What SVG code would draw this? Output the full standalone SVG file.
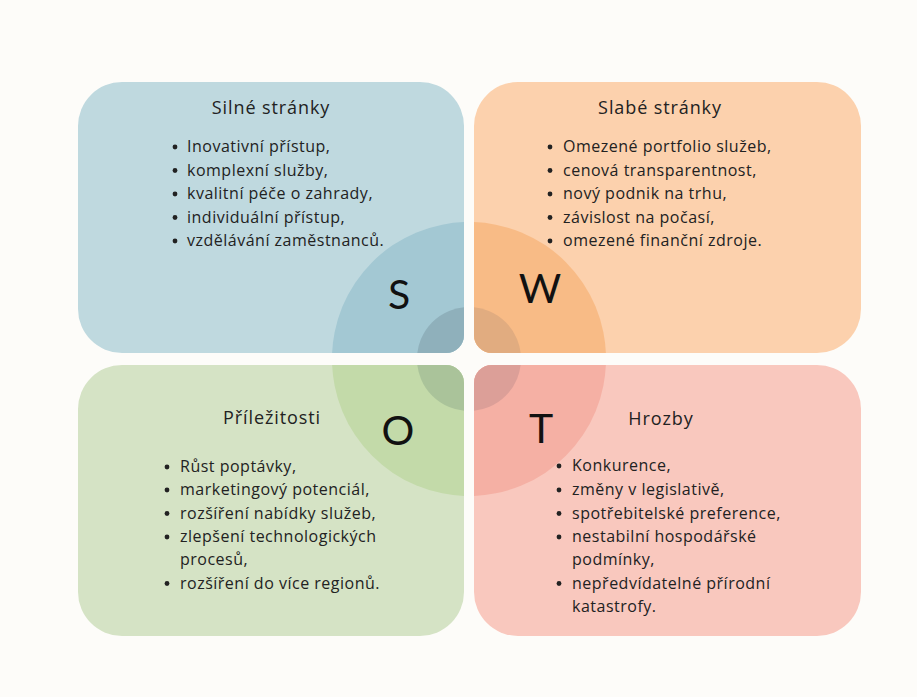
<svg xmlns="http://www.w3.org/2000/svg" xmlns:xlink="http://www.w3.org/1999/xlink" width="917" height="697" viewBox="0 0 917 697">
  <style>
    .title { font-family: "Open Sans", "Lato", "DejaVu Sans", sans-serif; font-size: 18px; letter-spacing: 0.9px; fill: #222; text-anchor: middle; }
    .item { font-family: "Open Sans", "Lato", "DejaVu Sans", sans-serif; font-size: 16px; letter-spacing: 0.5px; fill: #222; }
    .letter { font-family: "Lato", "Liberation Sans", sans-serif; font-size: 41px; fill: #111; text-anchor: middle; }
    .bullet { fill: #222; }
  </style>
  <defs>
    <!-- quadrant outlines: large outer corners, small corner toward the centre -->
    <path id="shape-s" d="M122,82 H420 A44,44 0 0 1 464,126 V335 A18,18 0 0 1 446,353 H122 A44,44 0 0 1 78,309 V126 A44,44 0 0 1 122,82 Z"/>
    <path id="shape-w" d="M518,82 H817 A44,44 0 0 1 861,126 V309 A44,44 0 0 1 817,353 H492 A18,18 0 0 1 474,335 V126 A44,44 0 0 1 518,82 Z"/>
    <path id="shape-o" d="M122,365 H446 A18,18 0 0 1 464,383 V592 A44,44 0 0 1 420,636 H122 A44,44 0 0 1 78,592 V409 A44,44 0 0 1 122,365 Z"/>
    <path id="shape-t" d="M492,365 H817 A44,44 0 0 1 861,409 V592 A44,44 0 0 1 817,636 H518 A44,44 0 0 1 474,592 V383 A18,18 0 0 1 492,365 Z"/>
    <clipPath id="clip-s"><use xlink:href="#shape-s"/></clipPath>
    <clipPath id="clip-w"><use xlink:href="#shape-w"/></clipPath>
    <clipPath id="clip-o"><use xlink:href="#shape-o"/></clipPath>
    <clipPath id="clip-t"><use xlink:href="#shape-t"/></clipPath>
    <circle id="ring-outer" cx="469" cy="359" r="137"/>
    <circle id="ring-inner" cx="469" cy="359" r="52"/>
  </defs>

  <rect width="917" height="697" fill="#fdfcf9"/>

  <!-- Strengths -->
  <g id="strengths">
    <use xlink:href="#shape-s" fill="#bfd9df"/>
    <g clip-path="url(#clip-s)">
      <use xlink:href="#ring-outer" fill="#a3c8d3"/>
      <use xlink:href="#ring-inner" fill="#8fb0bb"/>
    </g>
    <text class="letter" x="399" y="309">S</text>
    <text class="title" x="271" y="114">Silné stránky</text>
    <g class="bullet">
      <circle cx="175" cy="147" r="2.4"/>
      <circle cx="175" cy="170.5" r="2.4"/>
      <circle cx="175" cy="194" r="2.4"/>
      <circle cx="175" cy="217.5" r="2.4"/>
      <circle cx="175" cy="241" r="2.4"/>
    </g>
    <g class="item">
      <text x="187" y="152">Inovativní přístup,</text>
      <text x="187" y="175.5">komplexní služby,</text>
      <text x="187" y="199">kvalitní péče o zahrady,</text>
      <text x="187" y="222.5">individuální přístup,</text>
      <text x="187" y="246">vzdělávání zaměstnanců.</text>
    </g>
  </g>

  <!-- Weaknesses -->
  <g id="weaknesses">
    <use xlink:href="#shape-w" fill="#fcd1ad"/>
    <g clip-path="url(#clip-w)">
      <use xlink:href="#ring-outer" fill="#f8bb86"/>
      <use xlink:href="#ring-inner" fill="#e1ac80"/>
    </g>
    <text class="letter" x="540" y="303">W</text>
    <text class="title" x="660" y="114">Slabé stránky</text>
    <g class="bullet">
      <circle cx="550" cy="147" r="2.4"/>
      <circle cx="550" cy="170.5" r="2.4"/>
      <circle cx="550" cy="194" r="2.4"/>
      <circle cx="550" cy="217.5" r="2.4"/>
      <circle cx="550" cy="241" r="2.4"/>
    </g>
    <g class="item">
      <text x="563" y="152">Omezené portfolio služeb,</text>
      <text x="563" y="175.5">cenová transparentnost,</text>
      <text x="563" y="199">nový podnik na trhu,</text>
      <text x="563" y="222.5">závislost na počasí,</text>
      <text x="563" y="246">omezené finanční zdroje.</text>
    </g>
  </g>

  <!-- Opportunities -->
  <g id="opportunities">
    <use xlink:href="#shape-o" fill="#d5e3c5"/>
    <g clip-path="url(#clip-o)">
      <use xlink:href="#ring-outer" fill="#c3daa9"/>
      <use xlink:href="#ring-inner" fill="#aac39a"/>
    </g>
    <text class="letter" x="398" y="445">O</text>
    <text class="title" x="272" y="424">Příležitosti</text>
    <g class="bullet">
      <circle cx="167" cy="467" r="2.4"/>
      <circle cx="167" cy="490" r="2.4"/>
      <circle cx="167" cy="513.5" r="2.4"/>
      <circle cx="167" cy="537" r="2.4"/>
      <circle cx="167" cy="583.5" r="2.4"/>
    </g>
    <g class="item">
      <text x="180" y="472">Růst poptávky,</text>
      <text x="180" y="495">marketingový potenciál,</text>
      <text x="180" y="518.5">rozšíření nabídky služeb,</text>
      <text x="180" y="542">zlepšení technologických</text>
      <text x="180" y="565">procesů,</text>
      <text x="180" y="588.5">rozšíření do více regionů.</text>
    </g>
  </g>

  <!-- Threats -->
  <g id="threats">
    <use xlink:href="#shape-t" fill="#f9c8be"/>
    <g clip-path="url(#clip-t)">
      <use xlink:href="#ring-outer" fill="#f5b0a4"/>
      <use xlink:href="#ring-inner" fill="#dc9f98"/>
    </g>
    <text class="letter" x="541" y="443">T</text>
    <text class="title" x="661" y="425">Hrozby</text>
    <g class="bullet">
      <circle cx="559" cy="466" r="2.4"/>
      <circle cx="559" cy="490" r="2.4"/>
      <circle cx="559" cy="513.5" r="2.4"/>
      <circle cx="559" cy="537" r="2.4"/>
      <circle cx="559" cy="583.5" r="2.4"/>
    </g>
    <g class="item">
      <text x="572" y="471">Konkurence,</text>
      <text x="572" y="495">změny v legislativě,</text>
      <text x="572" y="518.5">spotřebitelské preference,</text>
      <text x="572" y="542">nestabilní hospodářské</text>
      <text x="572" y="565">podmínky,</text>
      <text x="572" y="588.5">nepředvídatelné přírodní</text>
      <text x="572" y="612">katastrofy.</text>
    </g>
  </g>

  <!-- no connectors in this chart -->
  <g id="connectors"/>
</svg>
